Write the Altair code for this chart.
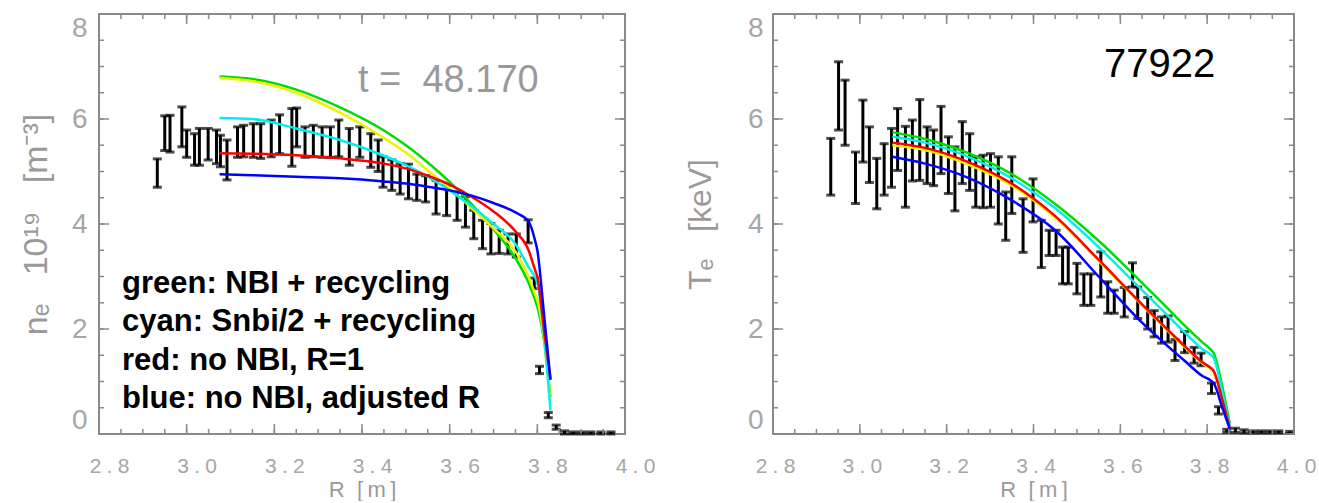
import altair as alt
import pandas as pd

# ---------------- data: left panel (electron density) ----------------
ne_R = [2.933, 2.950, 2.962, 2.989, 3.000, 3.018, 3.029, 3.049, 3.068, 3.077,
        3.092, 3.116, 3.130, 3.152, 3.169, 3.193, 3.212, 3.240, 3.251, 3.270,
        3.289, 3.309, 3.328, 3.347, 3.371, 3.395, 3.420, 3.437, 3.448, 3.468,
        3.487, 3.506, 3.525, 3.545, 3.569, 3.593, 3.617, 3.636, 3.655, 3.675,
        3.694, 3.713, 3.733, 3.752, 3.779, 3.793, 3.805, 3.825, 3.843, 3.862,
        3.882, 3.902, 3.922, 3.945, 3.968]
ne_val = [4.97, 5.73, 5.72, 5.85, 5.53, 5.42, 5.47, 5.52, 5.47, 5.39,
          5.22, 5.56, 5.58, 5.59, 5.58, 5.63, 5.71, 5.65, 5.84, 5.56,
          5.58, 5.56, 5.56, 5.63, 5.47, 5.56, 5.40, 5.30, 4.99, 4.93,
          4.86, 4.81, 4.70, 4.67, 4.51, 4.45, 4.34, 4.23, 3.99, 3.80,
          3.72, 3.66, 3.62, 3.59, 3.86, 2.87, 1.22, 0.36, 0.13, 0.03,
          0.02, 0.02, 0.02, 0.02, 0.02]
ne_err = [0.27, 0.33, 0.35, 0.38, 0.26, 0.30, 0.35, 0.30, 0.32, 0.30,
          0.38, 0.29, 0.30, 0.32, 0.33, 0.35, 0.37, 0.55, 0.37, 0.29,
          0.30, 0.29, 0.29, 0.35, 0.35, 0.29, 0.32, 0.30, 0.29, 0.29,
          0.29, 0.33, 0.25, 0.25, 0.32, 0.29, 0.27, 0.29, 0.27, 0.27,
          0.29, 0.22, 0.19, 0.22, 0.22, 0.10, 0.07, 0.05, 0.04, 0.03,
          0.02, 0.02, 0.02, 0.02, 0.02]

ne_curve_R = [3.075, 3.15, 3.25, 3.35, 3.45, 3.50, 3.55, 3.60, 3.65, 3.70, 3.75, 3.78, 3.795, 3.80, 3.815, 3.83]
ne_green   = [6.81, 6.76, 6.56, 6.22, 5.78, 5.50, 5.17, 4.80, 4.38, 3.90, 3.35, 2.88, 2.55, 2.42, 1.80, 0.70]
ne_yellow  = [6.78, 6.72, 6.50, 6.12, 5.64, 5.36, 5.02, 4.68, 4.30, 3.92, 3.48, 3.00, 2.66, 2.55, 1.85, 0.62]
ne_cyan    = [6.02, 6.00, 5.82, 5.60, 5.30, 5.12, 4.90, 4.64, 4.34, 4.00, 3.62, 3.18, 2.98, 2.88, 1.90, 0.45]
ne_red     = [5.35, 5.34, 5.31, 5.25, 5.15, 5.06, 4.92, 4.75, 4.52, 4.24, 3.86, 3.50, 3.12, 3.00, 2.00, 1.05]
ne_blue    = [4.95, 4.93, 4.90, 4.87, 4.81, 4.77, 4.71, 4.64, 4.54, 4.40, 4.22, 4.05, 3.68, 3.50, 2.30, 1.03]

# ---------------- data: right panel (electron temperature) ----------------
te_R = [2.933, 2.951, 2.966, 2.990, 3.007, 3.022, 3.039, 3.056, 3.073, 3.087,
        3.105, 3.121, 3.138, 3.155, 3.170, 3.187, 3.204, 3.219, 3.236, 3.253,
        3.267, 3.284, 3.301, 3.319, 3.336, 3.350, 3.376, 3.399, 3.418, 3.436,
        3.452, 3.467, 3.480, 3.500, 3.516, 3.532, 3.555, 3.571, 3.586, 3.609,
        3.628, 3.640, 3.663, 3.678, 3.695, 3.710, 3.726, 3.748, 3.770, 3.786,
        3.810, 3.826, 3.845, 3.865, 3.885, 3.905, 3.925, 3.945, 3.965, 3.990]
te_val = [5.09, 6.44, 6.12, 4.88, 5.77, 5.32, 4.77, 5.04, 5.26, 5.61,
          5.09, 5.40, 5.60, 5.31, 5.26, 5.60, 5.12, 4.86, 5.36, 5.18,
          4.80, 4.81, 4.83, 4.64, 4.15, 4.74, 3.97, 4.45, 3.62, 3.64,
          3.64, 3.21, 3.21, 2.96, 2.75, 2.75, 3.04, 2.60, 2.52, 2.51,
          3.03, 2.50, 2.30, 2.10, 1.98, 2.00, 1.60, 1.75, 1.50, 1.42,
          0.87, 0.45, 0.06, 0.07, 0.05, 0.04, 0.04, 0.04, 0.04, 0.03]
te_err = [0.54, 0.65, 0.62, 0.49, 0.59, 0.53, 0.48, 0.49, 0.56, 0.59,
          0.77, 0.58, 0.77, 0.54, 0.53, 0.64, 0.54, 0.61, 0.59, 0.54,
          0.48, 0.50, 0.51, 0.64, 0.46, 0.54, 0.51, 0.41, 0.45, 0.24,
          0.24, 0.35, 0.35, 0.29, 0.30, 0.30, 0.43, 0.30, 0.22, 0.28,
          0.23, 0.30, 0.30, 0.25, 0.25, 0.25, 0.20, 0.20, 0.15, 0.12,
          0.10, 0.07, 0.03, 0.04, 0.03, 0.02, 0.02, 0.02, 0.02, 0.02]

te_curve_R = [3.075, 3.15, 3.25, 3.35, 3.45, 3.55, 3.65, 3.70, 3.75, 3.79, 3.808, 3.815, 3.835, 3.852]
te_green   = [5.75, 5.62, 5.35, 4.95, 4.38, 3.68, 2.88, 2.47, 2.05, 1.74, 1.61, 1.54, 0.90, 0.20]
te_yellow  = [5.50, 5.41, 5.13, 4.73, 4.12, 3.30, 2.45, 2.04, 1.64, 1.34, 1.24, 1.18, 0.62, 0.12]
te_cyan    = [5.66, 5.55, 5.28, 4.87, 4.30, 3.56, 2.74, 2.33, 1.92, 1.61, 1.51, 1.45, 0.80, 0.15]
te_red     = [5.55, 5.45, 5.18, 4.77, 4.15, 3.32, 2.47, 2.06, 1.66, 1.36, 1.26, 1.20, 0.65, 0.12]
te_blue    = [5.28, 5.15, 4.88, 4.45, 3.88, 3.00, 2.12, 1.74, 1.38, 1.10, 1.02, 0.97, 0.50, 0.10]

x_major = [2.8, 3.0, 3.2, 3.4, 3.6, 3.8, 4.0]
x_minor = [round(2.8 + 0.05 * i, 2) for i in range(25)]
y_major = [0, 2, 4, 6, 8]
y_minor = [0.5 * i for i in range(17)]

legend_lines = ["green: NBI + recycling",
                "cyan: Snbi/2 + recycling",
                "red: no NBI, R=1",
                "blue: no NBI, adjusted R"]
time_label = "t =\u00a0\u00a048.170"
shot_label = "77922"
ne_title = "n\u2091\u00a0\u00a0 10\u00b9\u2079\u00a0\u00a0 [m\u207b\u00b3]"
te_title = "T\u2091\u00a0\u00a0 [keV]"

# ---------------- styling ----------------
FRAME = "#8a8a8a"
LABEL_GREY = "#a6a6a6"
TITLE_GREY = "#9a9a9a"
NARROW = "Liberation Sans Narrow, Liberation Sans, Arial, sans-serif"
ARIAL = "Liberation Sans, Arial, sans-serif"
H = 420
W_L, W_R = 526, 521
CURVE_COLORS = ["#00dd00", "#f2f200", "#00f0f0", "#ff0000", "#0000ff"]

xscale = alt.Scale(domain=[2.8, 4.0], nice=False, zero=False)
yscale = alt.Scale(domain=[0, 8], nice=False, zero=False)

x_label_expr = ("substring(format(datum.value,'.1f'),0,1) + '\u2005.\u2005' + "
                "substring(format(datum.value,'.1f'),2,3)")


def panel(R, val, err, cR, curves, ytitle, title_size, width, label_offset, title_pad, label_pad):
    xaxis = alt.Axis(values=x_major, labelExpr=x_label_expr, labelFontSize=21,
                     labelColor=LABEL_GREY, labelFont=ARIAL, labelPadding=21,
                     labelOffset=label_offset, labelFlush=False, ticks=False,
                     domain=False, grid=False, title="R\u00a0\u00a0[\u2009m\u2009]",
                     titleFontSize=22, titleColor=TITLE_GREY, titleFont=ARIAL,
                     titleFontWeight="normal", titlePadding=3)
    yaxis = alt.Axis(values=y_major, labelFontSize=28, labelColor=LABEL_GREY,
                     labelFont=NARROW, labelPadding=label_pad, labelFlush=True,
                     ticks=False, domain=False, grid=False, title=ytitle,
                     titleFontSize=title_size, titleColor=TITLE_GREY, titleFont=ARIAL,
                     titleFontWeight="normal", titlePadding=title_pad)

    def X(f):
        return alt.X(f, type="quantitative", scale=xscale, axis=xaxis)

    def Y(f):
        return alt.Y(f, type="quantitative", scale=yscale, axis=yaxis)

    df = pd.DataFrame({"R": R, "lo": [v - e for v, e in zip(val, err)],
                       "hi": [v + e for v, e in zip(val, err)]})
    base = alt.Chart(df)
    layers = [
        base.mark_rule(color="black", strokeWidth=3).encode(x=X("R"), y=Y("lo"), y2="hi"),
        base.mark_tick(color="black", orient="horizontal", size=9, thickness=3).encode(
            x=X("R"), y=Y("lo")),
        base.mark_tick(color="black", orient="horizontal", size=9, thickness=3).encode(
            x=X("R"), y=Y("hi")),
    ]
    for color, vals in zip(CURVE_COLORS, curves):
        layers.append(alt.Chart(pd.DataFrame({"R": cR, "v": vals})).mark_line(
            color=color, strokeWidth=2.5, interpolate="monotone").encode(
            x=X("R"), y=Y("v")))
    # inward frame ticks on all four sides
    for vals, ln in ((x_minor, 5), (x_major, 10)):
        d = pd.DataFrame({"v": vals})
        for y0, y1 in ((H, H - ln), (0, ln)):
            layers.append(alt.Chart(d).mark_rule(color=FRAME, strokeWidth=1.5).encode(
                x=X("v"), y=alt.value(y0), y2=alt.value(y1)))
    for vals, ln in ((y_minor, 5), (y_major, 10)):
        d = pd.DataFrame({"v": vals})
        for x0, x1 in ((0, ln), (width, width - ln)):
            layers.append(alt.Chart(d).mark_rule(color=FRAME, strokeWidth=1.5).encode(
                y=Y("v"), x=alt.value(x0), x2=alt.value(x1)))
    return layers


one = pd.DataFrame({"a": [0]})

left_layers = panel(ne_R, ne_val, ne_err, ne_curve_R,
                    [ne_green, ne_yellow, ne_cyan, ne_red, ne_blue],
                    ne_title, 34, W_L, 10, 18, 12)
left_layers.append(alt.Chart(one).mark_text(
    text=time_label, align="left", baseline="alphabetic", font=NARROW,
    fontSize=38, color=TITLE_GREY).encode(x=alt.value(259), y=alt.value(78)))
for i, line in enumerate(legend_lines):
    left_layers.append(alt.Chart(one).mark_text(
        text=line, align="left", baseline="alphabetic", font=ARIAL,
        fontSize=31, fontWeight="bold", color="black").encode(
        x=alt.value(23), y=alt.value(279 + 38.3 * i)))
left = alt.layer(*left_layers).properties(width=W_L, height=H)

right_layers = panel(te_R, te_val, te_err, te_curve_R,
                     [te_green, te_yellow, te_cyan, te_red, te_blue],
                     te_title, 32, W_R, 2, 30, 10)
right_layers.append(alt.Chart(one).mark_text(
    text=shot_label, align="left", baseline="alphabetic", font=ARIAL,
    fontSize=40, color="black").encode(x=alt.value(331), y=alt.value(63)))
right = alt.layer(*right_layers).properties(width=W_R, height=H)

chart = alt.hconcat(left, right, spacing=148, bounds="flush").properties(
    padding={"left": 18, "top": 12, "right": 0, "bottom": 0},
    background="white",
).configure_view(stroke=FRAME, strokeWidth=2)

chart.save("out.html", embed_options={"renderer": "svg", "actions": False})
